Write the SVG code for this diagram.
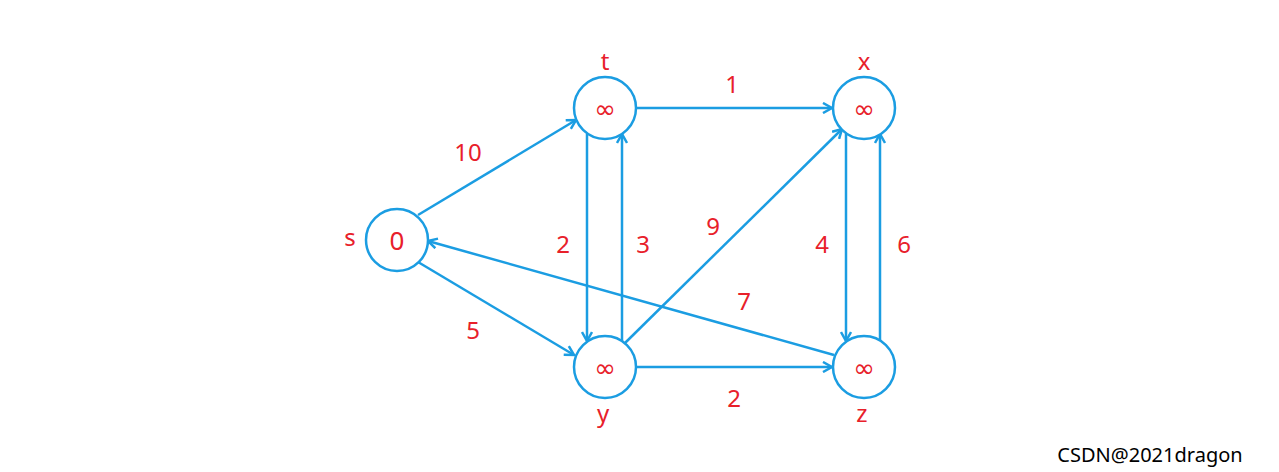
<svg xmlns="http://www.w3.org/2000/svg" width="1279" height="472" viewBox="0 0 1279 472">
<style>
.n{fill:#fff;stroke:#1b9de2;stroke-width:2.5}
.e{stroke:#1b9de2;stroke-width:2.5;fill:none;marker-end:url(#a)}
text{font-family:"Microsoft YaHei","Noto Sans","DejaVu Sans",sans-serif;fill:#e8202a;font-size:26px;text-anchor:middle}
.w{font-size:24px}
</style>
<defs><marker id="a" markerWidth="12" markerHeight="12" refX="10" refY="6" orient="auto" markerUnits="userSpaceOnUse"><path d="M1,1 L10,6 L1,11" fill="none" stroke="#1b9de2" stroke-width="2.5"/></marker></defs>
<rect width="1279" height="472" fill="#fff"/>
<g id="edges">
<line class="e" x1="418" y1="215" x2="576" y2="120"/>
<line class="e" x1="418" y1="262" x2="574" y2="355"/>
<line class="e" x1="636" y1="108" x2="832" y2="108"/>
<line class="e" x1="587" y1="134" x2="587" y2="341"/>
<line class="e" x1="622" y1="341" x2="622" y2="134"/>
<line class="e" x1="625" y1="343" x2="842" y2="129"/>
<line class="e" x1="636" y1="367" x2="832" y2="367"/>
<line class="e" x1="846" y1="134" x2="846" y2="341"/>
<line class="e" x1="880" y1="341" x2="880" y2="134"/>
<line class="e" x1="834" y1="355" x2="428" y2="241"/>
</g>
<g id="s"><circle class="n" cx="397" cy="240" r="31"/><text x="397" y="250">0</text><text x="350" y="246" class="w">s</text></g>
<g id="t"><circle class="n" cx="605" cy="108" r="31"/><text x="605" y="118">∞</text><text x="605" y="70" class="w">t</text></g>
<g id="x"><circle class="n" cx="864" cy="108" r="31"/><text x="864" y="118">∞</text><text x="864" y="70" class="w">x</text></g>
<g id="y"><circle class="n" cx="605" cy="367" r="31"/><text x="605" y="377">∞</text><text x="603" y="422" class="w">y</text></g>
<g id="z"><circle class="n" cx="864" cy="367" r="31"/><text x="864" y="377">∞</text><text x="862" y="422" class="w">z</text></g>
<g id="labels" class="w">
<text x="468" y="161" class="w">10</text>
<text x="473" y="339" class="w">5</text>
<text x="732" y="93" class="w">1</text>
<text x="563" y="253" class="w">2</text>
<text x="643" y="253" class="w">3</text>
<text x="713" y="235" class="w">9</text>
<text x="744" y="310" class="w">7</text>
<text x="734" y="407" class="w">2</text>
<text x="822" y="253" class="w">4</text>
<text x="904" y="253" class="w">6</text>
</g>
<text x="1150" y="462" style="fill:#000;font-size:20px">CSDN@2021dragon</text>
</svg>
